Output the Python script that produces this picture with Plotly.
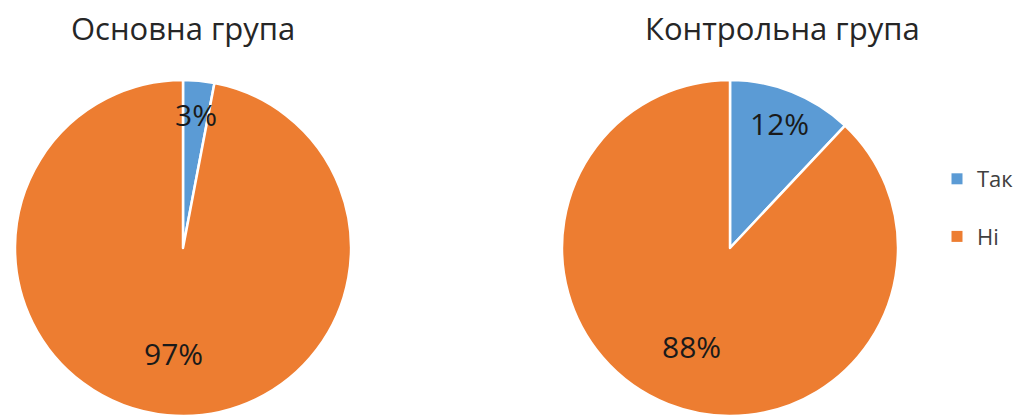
import math
import plotly.graph_objects as go

# Survey answers per group (share of respondents, %)
categories = ["Так", "Ні"]
main_group = [3, 97]
control_group = [12, 88]
titles = ["Основна група", "Контрольна група"]

colors = ["#5B9BD5", "#ED7D31"]
W, H = 1026, 419
FONT = "Open Sans"

# pie domains in paper coords
domains = [
    dict(x=[15 / W, 351 / W], y=[3 / H, 339 / H]),
    dict(x=[562 / W, 898 / W], y=[3 / H, 339 / H]),
]
title_x = [183 / W, 782 / W]

fig = go.Figure()
for vals, dom in zip([main_group, control_group], domains):
    fig.add_trace(go.Pie(
        labels=categories,
        values=vals,
        sort=False,
        direction="clockwise",
        rotation=0,
        marker=dict(colors=colors, line=dict(color="white", width=2.5)),
        textinfo="none",
        hoverinfo="label+percent",
        showlegend=False,
        domain=dom,
    ))

# legend entries as marker-only traces so the spacing can be controlled
for name, c in zip(categories, colors):
    fig.add_trace(go.Scatter(
        x=[None], y=[None], mode="markers", name=name,
        marker=dict(symbol="square", size=11, color=c),
        legendgroup=name,
    ))

annotations = []
# data labels placed along each slice's mid angle
for vals, dom in zip([main_group, control_group], domains):
    cx = (dom["x"][0] + dom["x"][1]) / 2 * W
    cy = (dom["y"][0] + dom["y"][1]) / 2 * H
    R = (dom["x"][1] - dom["x"][0]) * W / 2
    total = sum(vals)
    cum = 0
    for v in vals:
        frac = v / total
        mid = (cum + frac / 2) * 2 * math.pi
        cum += frac
        rf = 0.8 if frac < 0.5 else 0.63
        px = cx + rf * R * math.sin(mid)
        py = cy + rf * R * math.cos(mid)
        annotations.append(dict(
            x=px / W, y=py / H, xref="paper", yref="paper",
            xanchor="center", yanchor="middle",
            text=f"{v}%", showarrow=False,
            font=dict(family=FONT, size=30, color="#1a1a1a"),
        ))

for t, tx in zip(titles, title_x):
    annotations.append(dict(
        x=tx, y=(H - 28) / H, xref="paper", yref="paper",
        xanchor="center", yanchor="middle",
        text=t, showarrow=False,
        font=dict(family=FONT, size=31, color="#262626"),
    ))

fig.update_layout(
    width=W, height=H,
    margin=dict(l=0, r=0, t=0, b=0),
    paper_bgcolor="white",
    plot_bgcolor="white",
    xaxis=dict(visible=False),
    yaxis=dict(visible=False),
    annotations=annotations,
    legend=dict(
        x=937 / W, y=(H - 208) / H, xanchor="left", yanchor="middle",
        font=dict(family=FONT, size=22, color="#404040"),
        tracegroupgap=26, itemwidth=30,
        bgcolor="rgba(0,0,0,0)",
    ),
    showlegend=True,
)

fig.write_html("out.html")
